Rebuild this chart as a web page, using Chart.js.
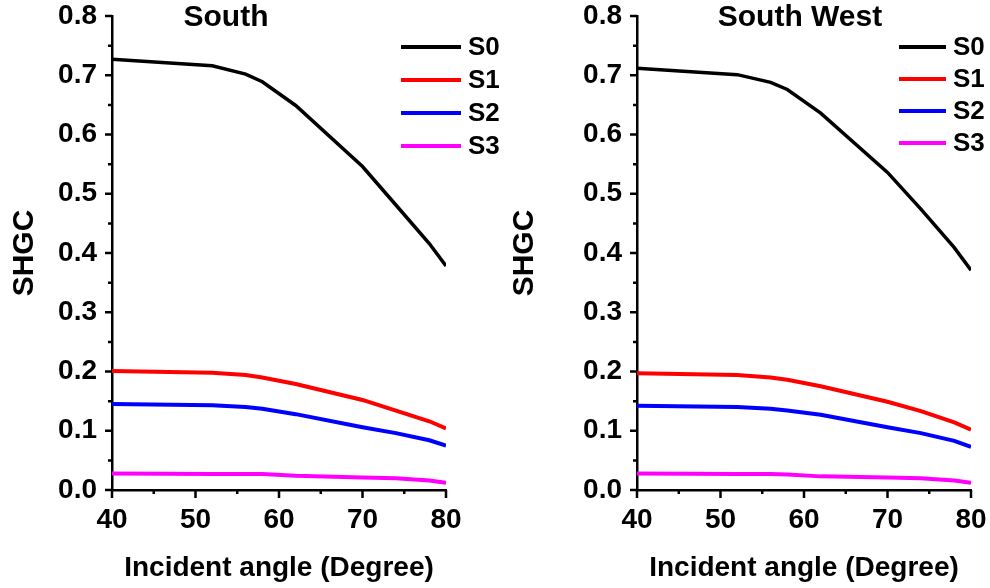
<!DOCTYPE html>
<html>
<head>
<meta charset="utf-8">
<script src="https://cdn.jsdelivr.net/npm/chart.js@4"></script>
<style>
  body { margin: 0; background: #fff; }
  #wrap { position: relative; width: 990px; height: 588px; }
  #southChart { position: absolute; left: 0; top: 0; }
  #southWestChart { position: absolute; left: 500px; top: 0; }
</style>
</head>
<body>
<div id="wrap">
  <canvas id="southChart" width="500" height="588"></canvas>
  <canvas id="southWestChart" width="490" height="588"></canvas>
</div>
<script>
// incident angles (degree)
const angles = [40, 52, 56, 58, 62, 70, 74, 78, 80];
const seriesNames = ['S0', 'S1', 'S2', 'S3'];
const xTicks = [40, 50, 60, 70, 80];
const yTicks = [0, 0.1, 0.2, 0.3, 0.4, 0.5, 0.6, 0.7, 0.8];

// South
const southS0 = [0.727, 0.716, 0.702, 0.689, 0.649, 0.546, 0.481, 0.416, 0.378];
const southS1 = [0.201, 0.198, 0.194, 0.190, 0.179, 0.152, 0.134, 0.116, 0.104];
const southS2 = [0.145, 0.143, 0.140, 0.137, 0.128, 0.106, 0.096, 0.084, 0.075];
const southS3 = [0.028, 0.027, 0.027, 0.027, 0.024, 0.021, 0.020, 0.016, 0.012];

// South West
const southWestS0 = [0.712, 0.701, 0.688, 0.676, 0.636, 0.536, 0.474, 0.409, 0.371];
const southWestS1 = [0.197, 0.194, 0.190, 0.186, 0.175, 0.149, 0.133, 0.114, 0.102];
const southWestS2 = [0.142, 0.140, 0.137, 0.134, 0.127, 0.106, 0.096, 0.083, 0.073];
const southWestS3 = [0.028, 0.027, 0.027, 0.026, 0.023, 0.021, 0.020, 0.016, 0.012];

const colors = ['#000000', '#ff0000', '#0000ff', '#ff00ff'];
const FONT = 'Arial, "Liberation Sans", sans-serif';

// titles, legend and the outward tick marks (major + minor)
const panelDecor = {
  id: 'panelDecor',
  afterDraw(chart, args, opts) {
    const ctx = chart.ctx;
    const xs = chart.scales.x, ys = chart.scales.y;
    const area = chart.chartArea;
    ctx.save();
    ctx.strokeStyle = '#000';
    ctx.lineWidth = 2.5;
    ctx.beginPath();
    for (let v = xs.min; v <= xs.max + 1e-9; v += 5) {
      const px = xs.getPixelForValue(v);
      const len = (Math.round(v) % 10 === 0) ? 8 : 4;
      ctx.moveTo(px, area.bottom);
      ctx.lineTo(px, area.bottom + len);
    }
    for (let i = 0; i <= 16; i++) {
      const v = i * 0.05;
      const py = ys.getPixelForValue(v);
      const len = (i % 2 === 0) ? 7 : 4;
      ctx.moveTo(area.left, py);
      ctx.lineTo(area.left - len, py);
    }
    ctx.stroke();

    // panel title
    ctx.fillStyle = '#000';
    ctx.font = 'bold 30px ' + FONT;
    ctx.textAlign = 'center';
    ctx.textBaseline = 'middle';
    ctx.fillText(opts.title, opts.titleX, opts.titleY);

    // legend
    ctx.font = 'bold 26px ' + FONT;
    ctx.textAlign = 'left';
    chart.data.datasets.forEach((ds, i) => {
      const y = opts.legendY + i * opts.legendGap;
      ctx.strokeStyle = ds.borderColor;
      ctx.lineWidth = 4;
      ctx.beginPath();
      ctx.moveTo(opts.legendX, y);
      ctx.lineTo(opts.legendX + opts.legendLen, y);
      ctx.stroke();
      ctx.fillStyle = '#000';
      ctx.fillText(ds.label, opts.legendX + opts.legendLen + 7, y + 1);
    });
    ctx.restore();
  }
};

function makeChart(id, series, decor, yWidth, padRight) {
  new Chart(document.getElementById(id), {
    type: 'line',
    data: {
      datasets: seriesNames.map((name, i) => ({
        label: name,
        data: angles.map((a, j) => ({ x: a, y: series[i][j] })),
        borderColor: colors[i],
        backgroundColor: colors[i],
        borderWidth: i === 0 ? 3.5 : 4,
        pointRadius: 0,
        tension: 0,
        fill: false
      }))
    },
    options: {
      responsive: false,
      animation: false,
      layout: { padding: { top: 16, right: padRight, left: 0, bottom: 0 } },
      plugins: {
        legend: { display: false },
        tooltip: { enabled: false },
        panelDecor: decor
      },
      scales: {
        x: {
          type: 'linear',
          min: 40,
          max: 80,
          afterBuildTicks: s => { s.ticks = xTicks.map(v => ({ value: v })); },
          afterFit: s => { s.height = 98; s.paddingLeft = 0; s.paddingRight = 0; },
          grid: { display: false, drawTicks: false, tickLength: 0 },
          border: { display: true, color: '#000', width: 2.5 },
          ticks: {
            color: '#000',
            font: { family: FONT, size: 28, weight: 'bold' },
            padding: 13,
            maxRotation: 0,
            autoSkip: false
          },
          title: {
            display: true,
            text: 'Incident angle (Degree)',
            color: '#000',
            font: { family: FONT, size: 28, weight: 'bold' },
            padding: { top: 0, bottom: 3 }
          }
        },
        y: {
          type: 'linear',
          min: 0,
          max: 0.8,
          afterBuildTicks: s => { s.ticks = yTicks.map(v => ({ value: v })); },
          afterFit: s => { s.width = yWidth; s.paddingTop = 0; s.paddingBottom = 0; },
          grid: { display: false, drawTicks: false, tickLength: 0 },
          border: { display: true, color: '#000', width: 2.5 },
          ticks: {
            color: '#000',
            font: { family: FONT, size: 28, weight: 'bold' },
            padding: 15,
            callback: v => Number(v).toFixed(1)
          },
          title: {
            display: true,
            text: 'SHGC',
            color: '#000',
            font: { family: FONT, size: 30, weight: 'bold' },
            padding: { top: 7, bottom: 0 }
          }
        }
      }
    },
    plugins: [panelDecor]
  });
}

makeChart('southChart', [southS0, southS1, southS2, southS3],
  { title: 'South', titleX: 226, titleY: 18, legendX: 401, legendLen: 60, legendY: 47, legendGap: 33 },
  112, 54);

makeChart('southWestChart', [southWestS0, southWestS1, southWestS2, southWestS3],
  { title: 'South West', titleX: 300, titleY: 18, legendX: 399, legendLen: 47, legendY: 47, legendGap: 32 },
  137, 19);
</script>
</body>
</html>
